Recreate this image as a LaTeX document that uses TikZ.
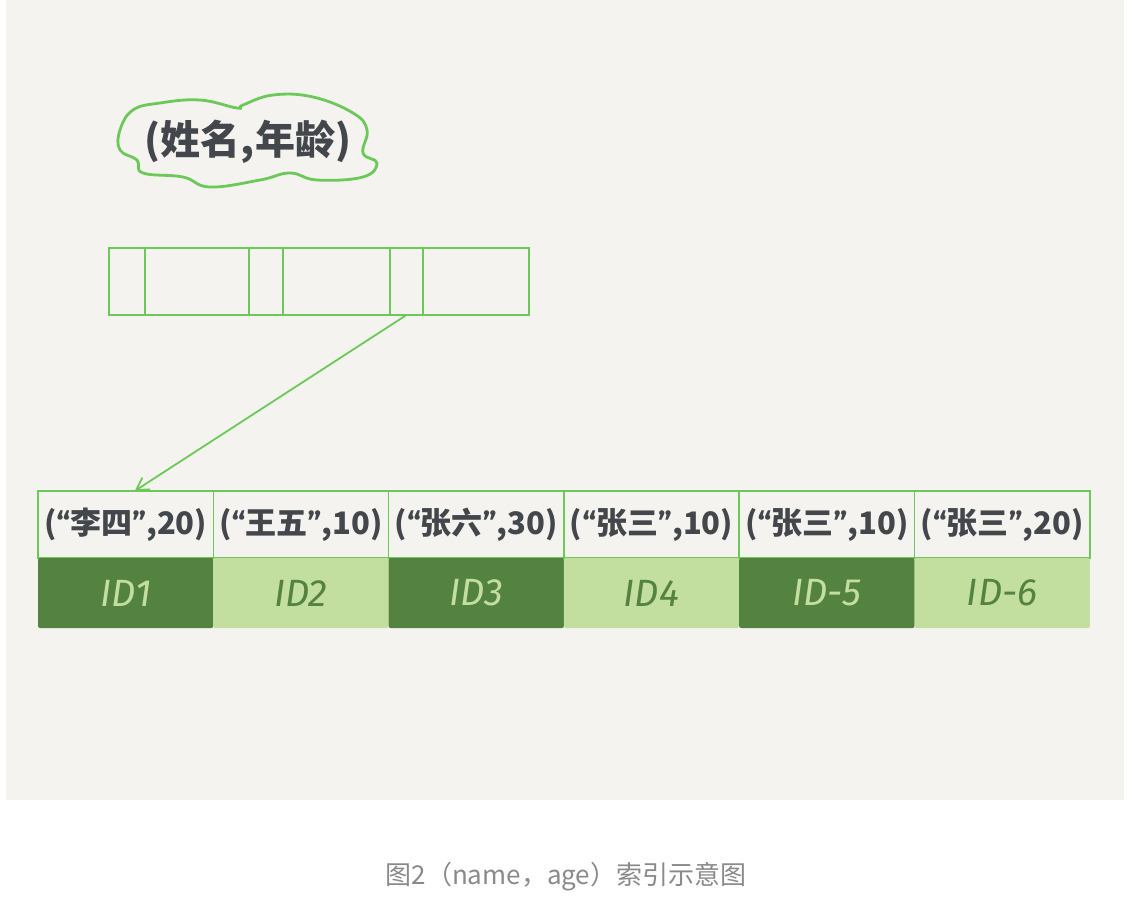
\documentclass[tikz,border=0pt]{standalone}
\usepackage{fontspec}
\newfontfamily\cjk{Noto Sans CJK SC}
\newfontfamily\hand{Fira Sans}
\usetikzlibrary{arrows.meta,positioning}
\definecolor{paper}{HTML}{F4F3EF}
\definecolor{linegreen}{HTML}{6DC85A}
\definecolor{darkleaf}{HTML}{548240}
\definecolor{lightleaf}{HTML}{C3DF9F}
\definecolor{inkgray}{HTML}{43474B}
\definecolor{capgray}{HTML}{8A8A8A}
\newcommand{\qo}{{\hand“}}
\newcommand{\qc}{{\hand”}}
\tikzset{
  slot/.style={draw=linegreen, line width=1.8pt, minimum height=67pt, inner sep=0pt, outer sep=0pt},
  keycell/.style={draw=linegreen, line width=1.6pt, minimum width=175.3pt, minimum height=67pt, inner sep=0pt, outer sep=0pt, font=\cjk\bfseries\fontsize{31}{33}\selectfont, text=inkgray},
  idcell/.style={minimum width=175.3pt, minimum height=70pt, inner sep=0pt, outer sep=0pt, rounded corners=2pt, font=\hand\itshape\fontsize{38}{40}\selectfont},
  iddark/.style={idcell, fill=darkleaf, text=lightleaf},
  idlight/.style={idcell, fill=lightleaf, text=darkleaf},
  line/.style={-{Straight Barb[length=12pt,width=14pt]}, line width=1.8pt, draw=linegreen}
}

\begin{document}
\begin{tikzpicture}[x=1pt, y=-1pt, node distance=0pt]
  \useasboundingbox (0,0) rectangle (1132,914);
  \fill[white] (0,0) rectangle (1132,914);
  \fill[paper] (6,0) rectangle (1124,800);
  % column list
  \node[font=\cjk\bfseries\fontsize{40}{42}\selectfont, text=inkgray] (cols) at (248,142) {(姓名,年龄)};
  \draw[linegreen, line width=2.8pt] plot[smooth cycle, tension=0.7] coordinates {
    (120,130) (133,110) (160,103) (200,100) (237,108) (243,105) (273,95) (313,97)
    (353,113) (367,130) (363,153) (377,163) (363,177) (317,180) (290,173) (260,180)
    (210,187) (183,177) (143,173) (137,160) (120,150)};
  % index page
  \node[slot, minimum width=36pt, anchor=north west] (s1) at (109,248) {};
  \node[slot, minimum width=104pt, right=of s1] (s2) {};
  \node[slot, minimum width=34pt, right=of s2] (s3) {};
  \node[slot, minimum width=107pt, right=of s3] (s4) {};
  \node[slot, minimum width=33pt, right=of s4] (s5) {};
  \node[slot, minimum width=106pt, right=of s5] (s6) {};
  % leaf entries
  \node[keycell, anchor=north west] (k1) at (38,491) {(\qo 李四\qc,20)};
  \node[keycell, right=of k1] (k2) {(\qo 王五\qc,10)};
  \node[keycell, right=of k2] (k3) {(\qo 张六\qc,30)};
  \node[keycell, right=of k3] (k4) {(\qo 张三\qc,10)};
  \node[keycell, right=of k4] (k5) {(\qo 张三\qc,10)};
  \node[keycell, right=of k5] (k6) {(\qo 张三\qc,20)};
  \node[iddark, below=of k1] (id1) {ID1};
  \node[idlight, below=of k2] (id2) {ID2};
  \node[iddark, below=of k3] (id3) {ID3};
  \node[idlight, below=of k4] (id4) {ID4};
  \node[iddark, below=of k5] (id5) {ID-5};
  \node[idlight, below=of k6] (id6) {ID-6};
  \draw[line] (s5.south) -- ([xshift=9pt]k1.north);
  \node[font=\cjk\fontsize{26}{28}\selectfont, text=capgray] (cap) at (566,877) {图2（name，age）索引示意图};
\end{tikzpicture}
\end{document}
